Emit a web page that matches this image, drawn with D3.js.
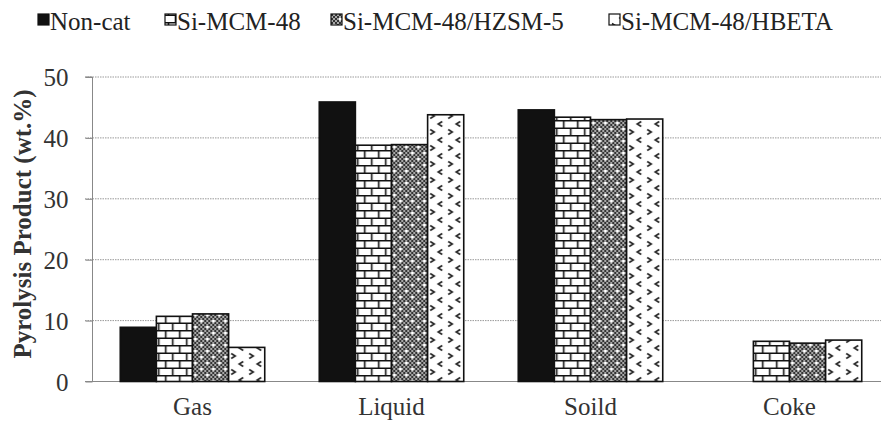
<!DOCTYPE html>
<html><head><meta charset="utf-8">
<script src="https://cdn.jsdelivr.net/npm/d3@7"></script>
<style>
html,body{margin:0;padding:0;background:#fff;}
svg{display:block;}
</style></head>
<body>
<svg id="chart" width="881" height="424"></svg>
<script>
const categories = ["Gas", "Liquid", "Soild", "Coke"];
const seriesNames = ["Non-cat", "Si-MCM-48", "Si-MCM-48/HZSM-5", "Si-MCM-48/HBETA"];
const nonCat = [8.9, 45.9, 44.6, null];
const siMCM48 = [10.7, 38.8, 43.4, 6.6];
const hzsm5 = [11.1, 38.9, 43.0, 6.3];
const hbeta = [5.6, 43.8, 43.1, 6.8];
const yTicks = [0, 10, 20, 30, 40, 50];
const yTitle = "Pyrolysis Product (wt.%)";

const FONT = '"Liberation Serif"';
const seriesValues = [nonCat, siMCM48, hzsm5, hbeta];
const svg = d3.select("#chart");
const defs = svg.append("defs");

// brick
const pb = defs.append("pattern").attr("id","brick").attr("patternUnits","userSpaceOnUse")
  .attr("width",14).attr("height",15);
pb.append("rect").attr("width",14).attr("height",15).attr("fill","#fff");
pb.append("path").attr("d","M0,0.75H14M0,8.25H14M3.5,0V8.25M10.5,8.25V15")
  .attr("stroke","#111").attr("stroke-width",1.6).attr("fill","none");
// checker with white dots
const pc = defs.append("pattern").attr("id","checker").attr("patternUnits","userSpaceOnUse")
  .attr("width",12).attr("height",12);
pc.append("rect").attr("width",12).attr("height",12).attr("fill","#a8a8a8");
for (let i=0;i<6;i++) for (let j=0;j<6;j++) if ((i+j)%2===0)
  pc.append("rect").attr("x",i*2).attr("y",j*2).attr("width",2).attr("height",2).attr("fill","#333");
pc.append("rect").attr("x",2).attr("y",2).attr("width",2.5).attr("height",2.5).attr("fill","#fff");
pc.append("rect").attr("x",8).attr("y",8).attr("width",2.5).attr("height",2.5).attr("fill","#fff");
// chevrons
const pv = defs.append("pattern").attr("id","chev").attr("patternUnits","userSpaceOnUse")
  .attr("width",18).attr("height",16);
pv.append("rect").attr("width",18).attr("height",16).attr("fill","#fff");
pv.append("path").attr("d","M3,1.5L7,4L3,6.5 M15,9.5L11,12L15,14.5")
  .attr("stroke","#222").attr("stroke-width",1.6).attr("fill","none");

const fills = ["#111", "url(#brick)", "url(#checker)", "url(#chev)"];

const x0 = d3.scaleBand().domain(categories).range([93, 889]).paddingInner(0.274).paddingOuter(0.137);
const x1 = d3.scaleBand().domain(seriesNames).range([0, x0.bandwidth()]);
const y = d3.scaleLinear().domain([0, 50]).range([381.5, 77]);

// gridlines
svg.append("g").selectAll("line").data(yTicks.filter(t=>t>0)).join("line")
  .attr("x1", 85).attr("x2", 881)
  .attr("y1", d=>y(d)).attr("y2", d=>y(d))
  .attr("stroke","#999").attr("stroke-width",1).attr("stroke-dasharray","1.5,1");

// y axis
const yAxis = d3.axisLeft(y).tickValues(yTicks).tickSize(7).tickPadding(17);
const ga = svg.append("g").attr("transform","translate(92.5,0)").call(yAxis);
ga.attr("font-family", null).attr("font-size", null);
ga.select(".domain").attr("stroke","#888").attr("d",`M-7,${y(50)}H0V${y(0)}`);
ga.selectAll(".tick line").attr("stroke","#888");
ga.selectAll(".tick text").style("font-family",FONT).attr("font-size",25)
  .attr("fill","#333").attr("dy","0.34em");

// baseline
svg.append("line").attr("x1",85).attr("x2",881).attr("y1",y(0)).attr("y2",y(0))
  .attr("stroke","#888").attr("stroke-width",1.2);

// bars
const groups = svg.append("g").selectAll("g").data(categories).join("g")
  .attr("transform", d=>`translate(${x0(d)},0)`);
groups.selectAll("rect").data((c,ci)=>seriesNames.map((s,si)=>({s, si, v: seriesValues[si][ci]})).filter(d=>d.v!=null))
  .join("rect")
  .attr("x", d=>x1(d.s)).attr("width", x1.bandwidth())
  .attr("y", d=>y(d.v)).attr("height", d=>y(0)-y(d.v))
  .attr("fill", d=>fills[d.si]).attr("stroke","#111").attr("stroke-width",1.6);

// x labels
svg.append("g").selectAll("text").data(categories).join("text")
  .attr("x", d=>x0(d)+x0.bandwidth()/2).attr("y", 415)
  .attr("text-anchor","middle").style("font-family",FONT).attr("font-size",25)
  .attr("fill","#333").text(d=>d);

// y title
svg.append("text").attr("transform","translate(31,224) rotate(-90)")
  .attr("text-anchor","middle").style("font-family",FONT).attr("font-size",25)
  .attr("font-weight","bold").attr("fill","#333").text(yTitle);

// legend
const legendX = [38, 165, 331, 609];
const lg = svg.append("g").selectAll("g").data(seriesNames).join("g")
  .attr("transform",(d,i)=>`translate(${legendX[i]},22)`);
lg.append("rect").attr("x",0).attr("y",-8).attr("width",11).attr("height",11)
  .attr("fill",(d,i)=>fills[i]).attr("stroke","#111").attr("stroke-width",1.2);
lg.append("text").attr("x",12).attr("y",8).style("font-family",FONT).attr("font-size",25)
  .attr("fill","#222").text(d=>d);
</script>
</body></html>
